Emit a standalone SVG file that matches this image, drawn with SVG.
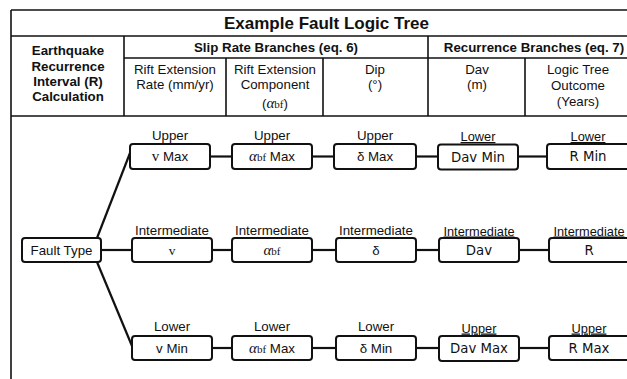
<svg xmlns="http://www.w3.org/2000/svg" width="627" height="379" viewBox="0 0 627 379">
<style>
.frame{fill:none;stroke:#111;stroke-width:1.6}
.box{fill:#fff;stroke:#111;stroke-width:2}
.con{fill:none;stroke:#111;stroke-width:2.2}
.t{font-family:"Liberation Sans",Arial,sans-serif;fill:#111}
.b{font-weight:bold}
.d{font-family:"DejaVu Sans",Verdana,sans-serif;fill:#111}
.s{font-family:"Liberation Serif","Times New Roman",serif;fill:#111}
.al{font-family:"Liberation Serif","Times New Roman",serif;font-style:italic;font-size:15px}
.sb{font-family:"Liberation Serif","Times New Roman",serif;font-size:11px}
.h{font-size:13.3px;text-anchor:middle}
.lab{font-size:13.3px;text-anchor:middle}
.labd{font-size:12.8px;text-anchor:middle;text-decoration:underline}
.n{font-size:13.3px;text-anchor:middle}
</style>
<rect width="627" height="379" fill="#fff"/>
<g id="table">
<line class="frame" x1="11" y1="10" x2="627" y2="10"/>
<line class="frame" x1="11" y1="10" x2="11" y2="379"/>
<line class="frame" x1="11" y1="36" x2="627" y2="36"/>
<line class="frame" x1="124" y1="58" x2="627" y2="58"/>
<line class="frame" x1="11" y1="116" x2="627" y2="116"/>
<line class="frame" x1="124" y1="36" x2="124" y2="116"/>
<line class="frame" x1="428" y1="36" x2="428" y2="116"/>
<line class="frame" x1="226" y1="58" x2="226" y2="116"/>
<line class="frame" x1="323" y1="58" x2="323" y2="116"/>
<line class="frame" x1="525" y1="58" x2="525" y2="116"/>
<text class="t b" x="326.5" y="29" font-size="17" text-anchor="middle">Example Fault Logic Tree</text>
<text class="t b h" x="68" y="55">Earthquake</text>
<text class="t b h" x="68" y="71">Recurrence</text>
<text class="t b h" x="68" y="86">Interval (R)</text>
<text class="t b h" x="68" y="101">Calculation</text>
<text class="t b h" x="276" y="52">Slip Rate Branches (eq. 6)</text>
<text class="t b h" x="534" y="52">Recurrence Branches (eq. 7)</text>
<text class="t h" x="175" y="74">Rift Extension</text>
<text class="t h" x="175" y="89">Rate (mm/yr)</text>
<text class="t h" x="275" y="74">Rift Extension</text>
<text class="t h" x="275" y="89">Component</text>
<text class="t h" x="275" y="108">(<tspan class="al">α</tspan><tspan class="sb">bf</tspan>)</text>
<text class="t h" x="375" y="74">Dip</text>
<text class="t h" x="375" y="89">(°)</text>
<text class="t h" x="477" y="74">Dav</text>
<text class="t h" x="477" y="89">(m)</text>
<text class="t h" x="578" y="74">Logic Tree</text>
<text class="t h" x="578" y="90">Outcome</text>
<text class="t h" x="578" y="106">(Years)</text>
</g>
<g id="connectors">
<line class="con" x1="101" y1="250" x2="132" y2="250"/>
<line class="con" x1="97" y1="238" x2="130" y2="153"/>
<line class="con" x1="97" y1="262" x2="132" y2="346"/>
<line class="con" x1="210" y1="156.5" x2="232" y2="156.5"/>
<line class="con" x1="312" y1="156.5" x2="334" y2="156.5"/>
<line class="con" x1="416" y1="156.5" x2="438" y2="156.5"/>
<line class="con" x1="518" y1="156.5" x2="547" y2="156.5"/>
<line class="con" x1="212" y1="250" x2="232" y2="250"/>
<line class="con" x1="312" y1="250" x2="336" y2="250"/>
<line class="con" x1="416" y1="250" x2="439" y2="250"/>
<line class="con" x1="519" y1="250" x2="549" y2="250"/>
<line class="con" x1="212" y1="348" x2="232" y2="348"/>
<line class="con" x1="312" y1="348" x2="336" y2="348"/>
<line class="con" x1="416" y1="348" x2="439" y2="348"/>
<line class="con" x1="519" y1="348" x2="549" y2="348"/>
</g>
<g id="fault-type">
<rect class="box" x="22" y="238" width="79" height="24" rx="3"/>
<text class="t n" x="61.5" y="255">Fault Type</text>
</g>
<g id="v-max">
<text class="t lab" x="170" y="140">Upper</text>
<rect class="box" x="130" y="144" width="80" height="25" rx="3"/>
<text class="t n" x="170" y="161"><tspan class="s" font-size="15">v</tspan> Max</text>
</g>
<g id="abf-max-upper">
<text class="t lab" x="272" y="140">Upper</text>
<rect class="box" x="232" y="144" width="80" height="25" rx="3"/>
<text class="t n" x="272" y="161"><tspan class="al">α</tspan><tspan class="sb">bf</tspan> Max</text>
</g>
<g id="delta-max">
<text class="t lab" x="375" y="140">Upper</text>
<rect class="box" x="334" y="144" width="82" height="25" rx="3"/>
<text class="t n" x="375" y="161">δ Max</text>
</g>
<g id="dav-min">
<text class="t labd" x="478" y="141">Lower</text>
<rect class="box" x="438" y="144.5" width="80" height="25" rx="3"/>
<text class="d n" x="478" y="161.5">Dav Min</text>
</g>
<g id="r-min">
<text class="t labd" x="588" y="141">Lower</text>
<rect class="box" x="547" y="144" width="90" height="25" rx="3"/>
<text class="d n" x="588" y="161">R Min</text>
</g>
<g id="v">
<text class="t lab" x="172" y="235">Intermediate</text>
<rect class="box" x="132" y="238" width="80" height="24" rx="3"/>
<text class="s n" x="172" y="255" font-size="15">v</text>
</g>
<g id="abf">
<text class="t lab" x="272" y="235">Intermediate</text>
<rect class="box" x="232" y="238" width="80" height="24" rx="3"/>
<text class="s n" x="272" y="255"><tspan class="al">α</tspan><tspan class="sb">bf</tspan></text>
</g>
<g id="delta">
<text class="t lab" x="376" y="235">Intermediate</text>
<rect class="box" x="336" y="238" width="80" height="24" rx="3"/>
<text class="t n" x="376" y="255">δ</text>
</g>
<g id="dav">
<text class="t labd" x="479" y="235.5" font-size="13.8">Intermediate</text>
<rect class="box" x="439" y="238" width="80" height="24" rx="3"/>
<text class="d n" x="479" y="255">Dav</text>
</g>
<g id="r">
<text class="t labd" x="589" y="235.5" font-size="13.8">Intermediate</text>
<rect class="box" x="549" y="238" width="90" height="24" rx="3"/>
<text class="d n" x="589" y="255">R</text>
</g>
<g id="v-min">
<text class="t lab" x="172" y="331">Lower</text>
<rect class="box" x="132" y="336" width="80" height="24" rx="3"/>
<text class="t n" x="172" y="353">v Min</text>
</g>
<g id="abf-max-lower">
<text class="t lab" x="272" y="331">Lower</text>
<rect class="box" x="232" y="336" width="80" height="24" rx="3"/>
<text class="t n" x="272" y="353"><tspan class="al">α</tspan><tspan class="sb">bf</tspan> Max</text>
</g>
<g id="delta-min">
<text class="t lab" x="376" y="331">Lower</text>
<rect class="box" x="336" y="336" width="80" height="24" rx="3"/>
<text class="t n" x="376" y="353">δ Min</text>
</g>
<g id="dav-max">
<text class="t labd" x="479" y="332.5">Upper</text>
<rect class="box" x="439" y="336" width="80" height="25" rx="3"/>
<text class="d n" x="479" y="353">Dav Max</text>
</g>
<g id="r-max">
<text class="t labd" x="589" y="332.5">Upper</text>
<rect class="box" x="549" y="336" width="90" height="24" rx="3"/>
<text class="d n" x="589" y="353">R Max</text>
</g>
</svg>
